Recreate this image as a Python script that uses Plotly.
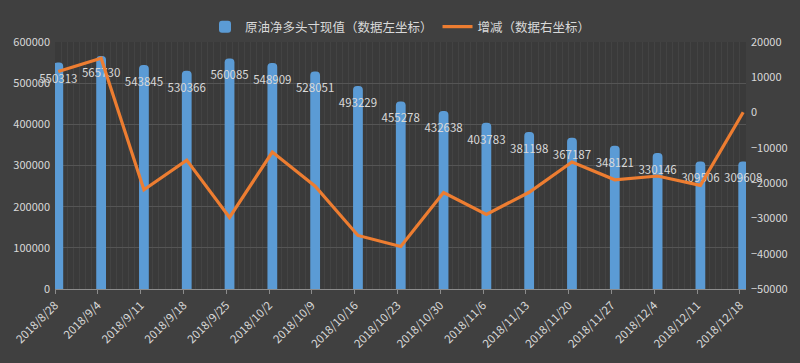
import plotly.graph_objects as go
import pandas as pd

dates = ["2018-08-28", "2018-09-04", "2018-09-11", "2018-09-18", "2018-09-25",
         "2018-10-02", "2018-10-09", "2018-10-16", "2018-10-23", "2018-10-30",
         "2018-11-06", "2018-11-13", "2018-11-20", "2018-11-27", "2018-12-04",
         "2018-12-11", "2018-12-18"]
tick_labels = ["2018/8/28", "2018/9/4", "2018/9/11", "2018/9/18", "2018/9/25",
               "2018/10/2", "2018/10/9", "2018/10/16", "2018/10/23", "2018/10/30",
               "2018/11/6", "2018/11/13", "2018/11/20", "2018/11/27", "2018/12/4",
               "2018/12/11", "2018/12/18"]
net_long = [550313, 565730, 543845, 530366, 560085, 548909, 528051, 493229,
            455278, 432638, 403783, 381198, 367187, 348121, 330146, 309506, 309608]
change = [11650, 15417, -21885, -13479, -29719, -11176, -20858, -34822,
          -37951, -22640, -28855, -22585, -14011, -19066, -17975, -20640, 102]

bar_name = "原油净多头寸现值（数据左坐标）"
line_name = "增减（数据右坐标）"

DAY = 86400000
xd = pd.to_datetime(dates)
xc = xd + pd.Timedelta(hours=13)

font_family = "Noto Sans CJK SC, Noto Sans, sans-serif"
txt_color = "#d9d9d9"

fig = go.Figure()
fig.add_trace(go.Bar(
    x=xc, y=net_long, name=bar_name, width=1.6 * DAY,
    marker=dict(color="#5b9bd5", line=dict(width=0)),
    yaxis="y",
))
fig.add_trace(go.Scatter(
    x=xc, y=net_long, mode="markers+text", text=[str(v) for v in net_long],
    textposition="bottom center", marker=dict(size=18, color="rgba(0,0,0,0)"),
    textfont=dict(size=11.5, color=txt_color, family=font_family),
    showlegend=False, hoverinfo="skip", yaxis="y", cliponaxis=False,
))
fig.add_trace(go.Scatter(
    x=xc, y=change, name=line_name, mode="lines",
    line=dict(color="#ed7d31", width=3.2),
    yaxis="y2",
))

fig.update_layout(
    width=800, height=363,
    margin=dict(l=55, r=52, t=42, b=72),
    paper_bgcolor="#404040",
    plot_bgcolor="#3a3a3a",
    font=dict(family=font_family, size=11, color=txt_color),
    barcornerradius=4,
    showlegend=True,
    legend=dict(orientation="h", x=0.5, xanchor="center", y=1.0, yanchor="bottom",
                font=dict(size=12.5, color=txt_color), bgcolor="rgba(0,0,0,0)",
                itemwidth=30),
    xaxis=dict(
        type="date",
        range=[xd[0], xd[-1] + pd.Timedelta(days=1)],
        tickmode="array", tickvals=xd, ticktext=tick_labels,
        tickangle=-45, ticks="outside", ticklen=4, tickcolor="#8c8c8c",
        showline=True, linecolor="#8c8c8c", linewidth=1,
        showgrid=False, zeroline=False,
        minor=dict(dtick=DAY, tick0="2018-08-28", showgrid=True,
                   gridcolor="#434343", gridwidth=1, ticks=""),
        tickfont=dict(size=11.5, color=txt_color),
    ),
    yaxis=dict(
        range=[0, 600000], dtick=100000, tickformat="d",
        showgrid=True, gridcolor="#555555", gridwidth=1,
        zeroline=False, showline=False, ticks="",
        ticklabelstandoff=4,
        tickfont=dict(size=11, color=txt_color),
    ),
    yaxis2=dict(
        range=[-50000, 20000], dtick=10000, tickformat="d",
        overlaying="y", side="right", showgrid=False, zeroline=False,
        showline=False, ticks="", ticklabelstandoff=4,
        tickfont=dict(size=11, color=txt_color),
    ),
)

fig.write_html("out.html")
